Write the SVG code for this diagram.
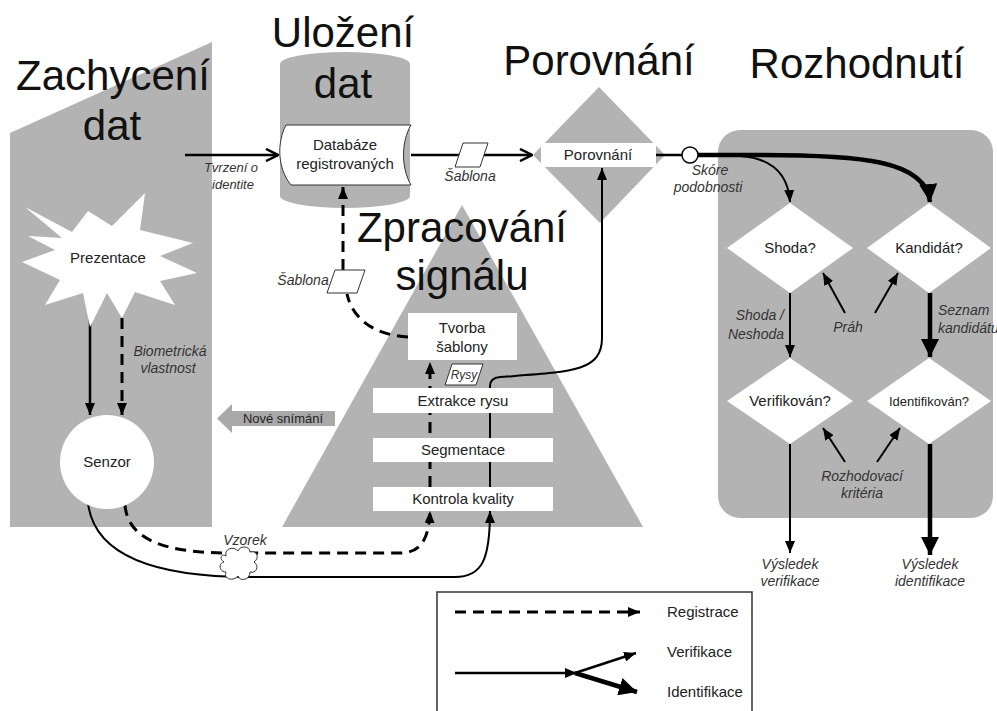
<svg xmlns="http://www.w3.org/2000/svg" width="997" height="711" viewBox="0 0 997 711">
<style>
.bg{fill:#b3b3b3}
.wh{fill:#fff}
.title{font-family:"Liberation Sans",Arial,sans-serif;font-size:42px;fill:#111;text-anchor:middle}
.t{font-family:"Liberation Sans",Arial,sans-serif;font-size:15px;fill:#222;text-anchor:middle}
.ts{font-family:"Liberation Sans",Arial,sans-serif;font-size:13px;fill:#222;text-anchor:middle}
.lb{font-family:"Liberation Sans",Arial,sans-serif;font-size:14px;font-style:italic;fill:#333;text-anchor:middle}
.ln{fill:none;stroke:#000;stroke-width:2.5}
.thick{fill:none;stroke:#000;stroke-width:4.5}
.thin{fill:none;stroke:#000;stroke-width:2}
.dash{fill:none;stroke:#000;stroke-width:3;stroke-dasharray:11 7}
.par{fill:#fff;stroke:#333;stroke-width:1}
</style>
<defs>
<marker id="ah" viewBox="0 0 12 10" markerWidth="12" markerHeight="10" refX="12" refY="5" orient="auto" markerUnits="userSpaceOnUse"><path d="M0,0 L12,5 L0,10 z" fill="#000"/></marker>
<marker id="ahBig" viewBox="0 0 18 18" markerWidth="18" markerHeight="18" refX="18" refY="9" orient="auto" markerUnits="userSpaceOnUse"><path d="M0,0 L18,9 L0,18 z" fill="#000"/></marker>
<marker id="ahOpen" viewBox="0 0 14 14" markerWidth="14" markerHeight="14" refX="13" refY="7" orient="auto" markerUnits="userSpaceOnUse"><path d="M1,1 L13,7 L1,13" fill="none" stroke="#000" stroke-width="2.5"/></marker>
</defs>
<rect width="997" height="711" fill="#fff"/>

<!-- background regions -->
<g id="zachyceni">
<path class="bg" d="M10,133 L212,42 L212,527 L10,527 Z"/>
<text class="title" x="113" y="90">Zachycení</text>
<text class="title" x="112" y="140">dat</text>
</g>
<g id="ulozeni">
<path class="bg" d="M280,64 A65,12 0 0 1 410,64 V196 A65,12 0 0 1 280,196 Z"/>
<text class="title" x="343" y="47">Uložení</text>
<text class="title" x="343" y="98">dat</text>
</g>
<g id="porovnani-area">
<path class="bg" d="M599,87 L665,155 L600,223 L533,155 Z"/>
<text class="title" x="599" y="75">Porovnání</text>
</g>
<g id="zpracovani">
<path class="bg" d="M462,205 L643,527 L282,527 Z"/>
<text class="title" x="462" y="242">Zpracování</text>
<text class="title" x="462" y="290">signálu</text>
</g>
<g id="rozhodnuti">
<rect class="bg" x="718" y="130" width="275" height="388" rx="22"/>
<text class="title" x="857" y="78">Rozhodnutí</text>
</g>
<g id="nove-snimani">
<path fill="#a9a9a9" d="M232,411 H335 V426 H232 V433 L217,418.5 L232,404 Z"/>
<text class="ts" x="283" y="423">Nové snímání</text>
</g>

<!-- connectors -->
<g id="connectors">
<path class="ln" stroke-width="3" d="M185,155 H278" marker-end="url(#ahOpen)"/>
<path class="ln" stroke-width="3" d="M411,155 H532" marker-end="url(#ahOpen)"/>
<path class="ln" d="M656,155 H683"/>
<path class="thick" d="M698,155 H760 C860,155 926,160 930,202" marker-end="url(#ahBig)"/>
<path class="thin" d="M740,156 C770,158 788,172 790,202" marker-end="url(#ah)"/>
<path class="thin" d="M790,293 V357" marker-end="url(#ah)"/>
<path class="thick" d="M930,293 V357" marker-end="url(#ahBig)"/>
<path class="thin" d="M845,313 L823,273" marker-end="url(#ah)"/>
<path class="thin" d="M875,313 L898,273" marker-end="url(#ah)"/>
<path class="thin" d="M845,462 L823,428" marker-end="url(#ah)"/>
<path class="thin" d="M877,462 L900,428" marker-end="url(#ah)"/>
<path class="thin" d="M790,444 V553" marker-end="url(#ah)"/>
<path class="thick" d="M930,444 V555" marker-end="url(#ahBig)"/>
<path class="ln" stroke-width="3" d="M90,300 V415" marker-end="url(#ah)"/>
<path class="dash" d="M122,300 V415" marker-end="url(#ah)"/>
<path class="thin" d="M88,503 C95,562 170,577 250,577 H455 C482,577 490,560 490,511" marker-end="url(#ah)"/>
<path class="dash" d="M125,505 C128,542 170,553 230,553 H400 C420,553 429,540 430,511" marker-end="url(#ah)"/>
<path class="dash" d="M430,487 V362" marker-end="url(#ah)"/>
<path class="thin" d="M490,488 V386 Q490,378 500,377 C570,372 602,372 602,338 V168" marker-end="url(#ah)"/>
<path class="dash" d="M408,337 C375,335 353,320 347,294"/>
<path class="dash" d="M343,270 V187" marker-end="url(#ah)"/>
</g>

<!-- nodes -->
<g id="prezentace">
<polygon class="wh" points="25,207 72,232 88,211 112,226 145,193 140,230 193,243 160,256 197,273 160,281 175,305 135,292 122,318 107,293 90,327 83,293 45,305 60,280 22,262 55,250 28,236 62,238"/>
<text class="t" x="108" y="263">Prezentace</text>
<text class="lb" x="170" y="356">Biometrická</text>
<text class="lb" x="168" y="373">vlastnost</text>
</g>
<g id="senzor">
<circle class="wh" cx="107" cy="462" r="47"/>
<text class="t" x="107" y="467">Senzor</text>
</g>
<g id="vzorek">
<path fill="#fff" stroke="#333" stroke-width="1" d="M226,556 C224,548 234,546 238,551 C240,545 250,546 250,552 C257,550 260,558 254,562 C260,566 256,574 250,572 C250,580 240,582 238,576 C233,582 223,579 226,572 C219,572 218,563 224,562 C219,559 221,553 226,556 Z"/>
<text class="lb" x="245" y="545">Vzorek</text>
</g>
<g id="databaze">
<path fill="#fff" stroke="#333" stroke-width="1" d="M286,125 H411 C401,142 401,168 411,185 H291 C277,168 277,142 286,125 Z"/>
<text class="t" x="345" y="150">Databáze</text>
<text class="t" x="345" y="169">registrovaných</text>
<text class="lb" x="231" y="172" style="font-size:13px">Tvrzení o</text>
<text class="lb" x="233" y="189" style="font-size:13px">identite</text>
</g>
<g id="sablona-1">
<path class="par" d="M463,143 H488 L480,167 H455 Z"/>
<text class="lb" x="470" y="181">Šablona</text>
</g>
<g id="porovnani">
<rect class="wh" x="541" y="143" width="115" height="24"/>
<text class="t" x="598" y="160">Porovnání</text>
<circle cx="690" cy="155" r="8" fill="#fff" stroke="#000" stroke-width="1.5"/>
<text class="lb" x="710" y="175">Skóre</text>
<text class="lb" x="708" y="192">podobnosti</text>
</g>
<g id="sablona-2">
<path class="par" d="M335,270 H365 L357,293 H327 Z"/>
<text class="lb" x="303" y="285">Šablona</text>
</g>
<g id="tvorba">
<rect class="wh" x="408" y="313" width="109" height="47"/>
<text class="t" x="462" y="333">Tvorba</text>
<text class="t" x="462" y="352">šablony</text>
</g>
<g id="rysy">
<path class="par" d="M452,364 H483 L476,385 H445 Z"/>
<text class="lb" x="464" y="379" style="font-size:12px">Rysy</text>
</g>
<g id="extrakce">
<rect class="wh" x="373" y="388" width="180" height="25"/>
<text class="t" x="463" y="406">Extrakce rysu</text>
</g>
<g id="segmentace">
<rect class="wh" x="373" y="438" width="180" height="24"/>
<text class="t" x="463" y="455">Segmentace</text>
</g>
<g id="kontrola">
<rect class="wh" x="373" y="487" width="180" height="24"/>
<text class="t" x="463" y="504">Kontrola kvality</text>
</g>
<g id="shoda">
<path class="wh" d="M790,203 L853,248 L790,293 L727,248 Z"/>
<text class="t" x="790" y="253">Shoda?</text>
<text class="lb" x="784" y="320" style="text-anchor:end">Shoda /</text>
<text class="lb" x="784" y="339" style="text-anchor:end">Neshoda</text>
</g>
<g id="kandidat">
<path class="wh" d="M929,203 L991,248 L929,293 L867,248 Z"/>
<text class="t" x="929" y="253">Kandidát?</text>
<text class="lb" x="938" y="315" style="text-anchor:start">Seznam</text>
<text class="lb" x="938" y="333" style="text-anchor:start">kandidátu</text>
</g>
<g id="prah">
<text class="lb" x="848" y="332">Práh</text>
</g>
<g id="verifikovan">
<path class="wh" d="M790,358 L853,401 L790,444 L727,401 Z"/>
<text class="t" x="790" y="406">Verifikován?</text>
</g>
<g id="identifikovan">
<path class="wh" d="M929,358 L991,401 L929,444 L867,401 Z"/>
<text class="ts" x="929" y="406">Identifikován?</text>
</g>
<g id="kriteria">
<text class="lb" x="862" y="481">Rozhodovací</text>
<text class="lb" x="862" y="498">kritéria</text>
</g>
<g id="vysledek-ver">
<text class="lb" x="790" y="569">Výsledek</text>
<text class="lb" x="790" y="586">verifikace</text>
</g>
<g id="vysledek-id">
<text class="lb" x="930" y="569">Výsledek</text>
<text class="lb" x="930" y="586">identifikace</text>
</g>
<g id="legenda">
<path fill="none" stroke="#333" stroke-width="1.5" d="M437,715 V592 H752 V715"/>
<path class="dash" d="M455,612 H640" marker-end="url(#ah)"/>
<path class="ln" stroke-width="3" d="M455,673 H577" marker-end="url(#ah)"/>
<path class="ln" d="M575,673 L636,653" marker-end="url(#ah)"/>
<path class="thick" d="M575,673 L637,692" marker-end="url(#ahBig)"/>
<text class="t" x="667" y="617" style="text-anchor:start">Registrace</text>
<text class="t" x="667" y="657" style="text-anchor:start">Verifikace</text>
<text class="t" x="667" y="697" style="text-anchor:start">Identifikace</text>
</g>
</svg>
